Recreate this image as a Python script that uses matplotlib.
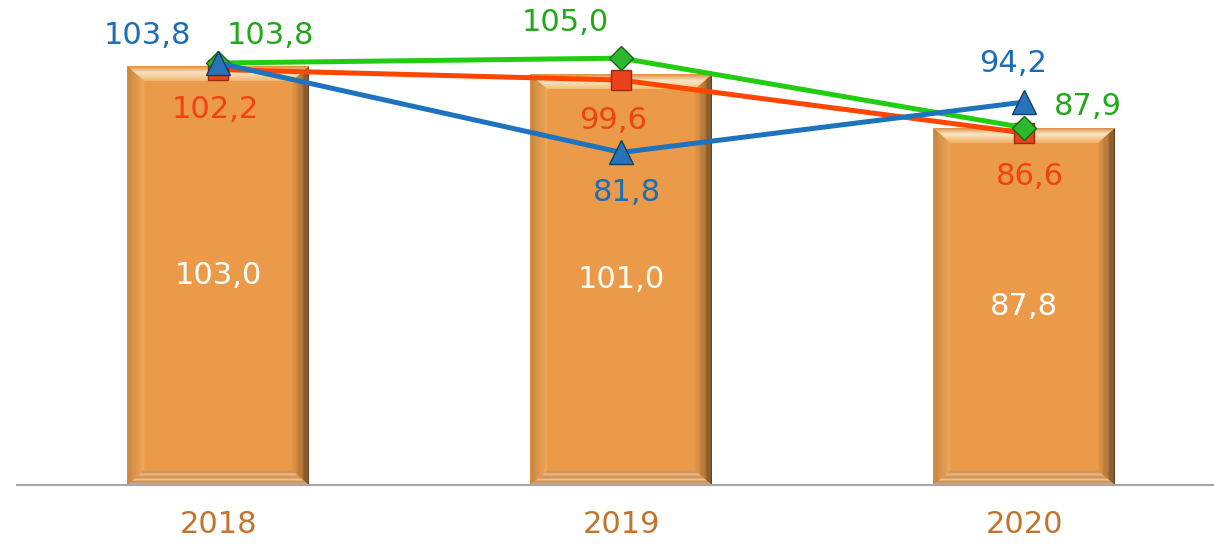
import numpy as np
import matplotlib.pyplot as plt
from matplotlib.patches import Polygon
from matplotlib.colors import to_rgb

# данные
years = ['2018', '2019', '2020']
bars = [103.0, 101.0, 87.8]
red_vals = [102.2, 99.6, 86.6]
green_vals = [103.8, 105.0, 87.9]
blue_vals = [103.8, 81.8, 94.2]

plt.rcParams['font.family'] = ['DejaVu Sans']

W, H = 1214, 544
fig = plt.figure(figsize=(W / 100, H / 100), dpi=100)
ax = fig.add_axes([17 / W, 59 / H, 1 - 17 / W, 1 - 59 / H])

x = np.arange(len(years))
bw = 0.45
base = '#EA9A48'
ax.bar(x, bars, width=bw, color=base, zorder=1)

# фаска по краям столбиков
dx, dy = 0.042, 3.6
def mix(c1, c2, t):
    a, b = np.array(to_rgb(c1)), np.array(to_rgb(c2))
    return tuple(a + (b - a) * t)

for xi, h in zip(x, bars):
    x0, x1 = xi - bw / 2, xi + bw / 2
    n = 14
    # правая тёмная кромка
    for k in range(n):
        t0, t1 = k / n, (k + 1) / n
        poly = [(x1 - dx * t0, dy * t0), (x1 - dx * t1, dy * t1),
                (x1 - dx * t1, h - dy * t1), (x1 - dx * t0, h - dy * t0)]
        ax.add_patch(Polygon(poly, color=mix('#4A321C', base, t0 ** 0.6), lw=0, zorder=2))
    # левая кромка
    for k in range(n):
        t0, t1 = k / n, (k + 1) / n
        poly = [(x0 + dx * t0, dy * t0), (x0 + dx * t1, dy * t1),
                (x0 + dx * t1, h - dy * t1), (x0 + dx * t0, h - dy * t0)]
        ax.add_patch(Polygon(poly, color=mix('#C4853F', '#F4AA5C', t0), lw=0, zorder=2))
    # верхняя светлая кромка
    for k in range(n):
        t0, t1 = k / n, (k + 1) / n
        poly = [(x0 + dx * t0, h - dy * t0), (x1 - dx * t0, h - dy * t0),
                (x1 - dx * t1, h - dy * t1), (x0 + dx * t1, h - dy * t1)]
        if t0 < 0.4:
            c = mix('#DC9248', '#FFFCEB', t0 / 0.4)
        else:
            c = mix('#FFFCEB', '#F2B468', (t0 - 0.4) / 0.6)
        ax.add_patch(Polygon(poly, color=c, lw=0, zorder=2))
    # нижняя кромка
    for k in range(n):
        t0, t1 = k / n, (k + 1) / n
        poly = [(x0 + dx * t0, dy * t0), (x1 - dx * t0, dy * t0),
                (x1 - dx * t1, dy * t1), (x0 + dx * t1, dy * t1)]
        c = mix('#F6CFA2', '#B0703A', abs(np.sin(t0 * 9)) * 0.65)
        ax.add_patch(Polygon(poly, color=c, lw=0, zorder=2))

for xi, h in zip(x, bars):
    ax.text(xi, h / 2, f'{h:.1f}'.replace('.', ','), ha='center', va='center',
            color='white', fontsize=22, zorder=3)

# линии
ax.plot(x, red_vals, color='#FF4500', lw=3.6, marker='s', ms=15,
        mfc='#E8431A', mec='#9A2A10', mew=1, zorder=4)
ax.plot(x, green_vals, color='#22CC11', lw=3.6, marker='D', ms=12,
        mfc='#2EB82E', mec='#156615', mew=1, zorder=5)
ax.plot(x, blue_vals, color='#1E73BE', lw=3.6, marker='^', ms=17,
        mfc='#2A72B8', mec='#123E66', mew=1, zorder=6)

def lab(vals, offs, color):
    for xi, v, (ox, oy) in zip(x, vals, offs):
        ax.annotate(f'{v:.1f}'.replace('.', ','), (xi, v), xytext=(ox, oy),
                    textcoords='offset pixels', ha='center', va='center',
                    color=color, fontsize=22, zorder=7)

lab(blue_vals, [(-71, 28), (6, -40), (-11, 39)], '#1B6DB8')
lab(green_vals, [(52, 28), (-56, 36), (64, 21)], '#22A81A')
lab(red_vals, [(-3, -40), (-8, -40), (6, -44)], '#F04212')

ax.set_xlim(-0.499, 2.471)
ax.set_ylim(0, 119.3)
ax.set_xticks(x)
ax.set_xticklabels(years, color='#C0742C', fontsize=22)
ax.tick_params(axis='x', length=0, pad=18)
ax.set_yticks([])
for s in ['top', 'right', 'left']:
    ax.spines[s].set_visible(False)
ax.spines['bottom'].set_color('#A6A6A6')
ax.spines['bottom'].set_linewidth(1.5)

fig.savefig('out.png', dpi=100)
